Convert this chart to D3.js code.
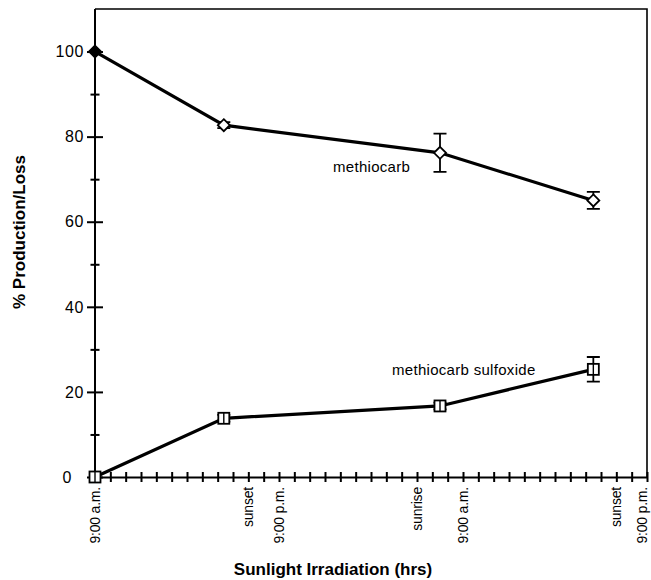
<!DOCTYPE html>
<html>
<head>
<meta charset="utf-8">
<script src="https://cdn.jsdelivr.net/npm/d3@7"></script>
<style>
  body { margin: 0; background: #fff; }
  svg text { font-family: "Liberation Sans", Arial, Helvetica, sans-serif; fill: #000; }
</style>
</head>
<body>
<div id="chart"></div>
<script>
// hours after 9:00 a.m. on day one
const hours = [0, 8.4, 22.5, 32.5];
const methiocarb = [100, 82.7, 76.2, 65.0];
const methiocarbErr = [0, 0.7, 4.5, 2.0];
const sulfoxide = [0, 13.8, 16.7, 25.3];
const sulfoxideErr = [0, 0.8, 0.8, 2.9];

const yTicks = [0, 10, 20, 30, 40, 50, 60, 70, 80, 90, 100];
const yLabels = [0, 20, 40, 60, 80, 100];
const xTickHours = d3.range(0, 37);
const xLabelHours = [0, 10, 12, 21, 24, 34, 36];
const xLabelTexts = ["9:00 a.m.", "sunset", "9:00 p.m.", "sunrise", "9:00 a.m.", "sunset", "9:00 p.m."];

const width = 651, height = 580;
const svg = d3.select("#chart").append("svg").attr("width", width).attr("height", height);

const x = d3.scaleLinear().domain([0, 36]).range([95, 647]);
const y = d3.scaleLinear().domain([0, 110]).range([477, 9]);

// frame top + right
svg.append("path")
    .attr("d", `M${x(0)},${y(110)}H${x(36)}V${y(0)}`)
    .attr("fill", "none").attr("stroke", "#000").attr("stroke-width", 1.6);

// y axis
const yAxis = d3.axisLeft(y).tickValues(yTicks).tickSize(0).tickFormat("");
const gy = svg.append("g").attr("transform", `translate(${x(0)},0)`).call(yAxis);
gy.select(".domain").attr("stroke-width", 2).attr("d", `M0,${y(110)}V${y(0)}`);
gy.selectAll(".tick line")
    .attr("stroke-width", 2)
    .attr("x1", d => d % 20 === 0 ? -8 : -4.5)
    .attr("x2", d => d % 20 === 0 ? 8 : 4.5);

svg.append("g").selectAll("text")
    .data(yLabels)
    .enter().append("text")
    .attr("x", d => d === 0 ? 72 : 84)
    .attr("y", d => y(d))
    .attr("dy", "0.36em")
    .attr("text-anchor", "end")
    .attr("font-size", 16).attr("letter-spacing", 0.6)
    .text(d => d);

// x axis with crossing hour ticks
const xAxis = d3.axisBottom(x).tickValues(xTickHours).tickSize(0).tickFormat("");
const gx = svg.append("g").attr("transform", `translate(0,${y(0)})`).call(xAxis);
gx.select(".domain").attr("stroke-width", 2.2);
gx.selectAll(".tick line").attr("stroke-width", 2).attr("y1", -5).attr("y2", 5);

svg.append("g").selectAll("text")
    .data(xLabelHours)
    .enter().append("text")
    .attr("transform", d => `translate(${Math.min(x(d), 642)},${y(0) + 10}) rotate(-90)`)
    .attr("dy", "0.36em")
    .attr("text-anchor", "end")
    .attr("font-size", 14).attr("letter-spacing", -0.2)
    .text((d, i) => xLabelTexts[i]);

// axis titles
svg.append("text")
    .attr("x", 333).attr("y", 575)
    .attr("text-anchor", "middle")
    .attr("font-size", 17).attr("font-weight", "bold")
    .text("Sunlight Irradiation (hrs)");

svg.append("text")
    .attr("transform", "translate(25,232) rotate(-90)")
    .attr("text-anchor", "middle")
    .attr("font-size", 17).attr("font-weight", "bold")
    .text("% Production/Loss");

// series
const line = d3.line().x(d => x(d[0])).y(d => y(d[1]));

function plotSeries(vals, errs, shape) {
    const pts = hours.map((h, i) => [h, vals[i], errs[i]]);
    svg.append("path").datum(pts).attr("d", line)
        .attr("fill", "none").attr("stroke", "#000").attr("stroke-width", 3.2);

    const g = svg.append("g").attr("stroke", "#000").attr("stroke-width", 1.8);
    pts.filter(p => p[2] > 0).forEach(p => {
        const cx = x(p[0]), top = y(p[1] + p[2]), bot = y(p[1] - p[2]);
        g.append("path")
            .attr("d", `M${cx},${top}V${bot}M${cx - 6.5},${top}H${cx + 6.5}M${cx - 6.5},${bot}H${cx + 6.5}`)
            .attr("fill", "none");
    });

    pts.forEach((p, i) => {
        const cx = x(p[0]), cy = y(p[1]);
        if (shape === "diamond") {
            g.append("path")
                .attr("d", `M${cx},${cy - 6}L${cx + 6},${cy}L${cx},${cy + 6}L${cx - 6},${cy}Z`)
                .attr("fill", i === 0 ? "#000" : "#fff");
        } else {
            g.append("rect")
                .attr("x", cx - 5.5).attr("y", cy - 5.5)
                .attr("width", 11).attr("height", 11)
                .attr("fill", "#fff");
            g.append("line").attr("x1", cx).attr("x2", cx)
                .attr("y1", cy - 5.5).attr("y2", cy + 5.5).attr("stroke-width", 1.4);
        }
    });
}

plotSeries(methiocarb, methiocarbErr, "diamond");
plotSeries(sulfoxide, sulfoxideErr, "square");

// series labels
svg.append("text").attr("x", 333).attr("y", 172)
    .attr("font-size", 15).attr("letter-spacing", 0.3)
    .text("methiocarb");
svg.append("text").attr("x", 392).attr("y", 375)
    .attr("font-size", 15).attr("letter-spacing", 0.3)
    .text("methiocarb sulfoxide");
</script>
</body>
</html>
